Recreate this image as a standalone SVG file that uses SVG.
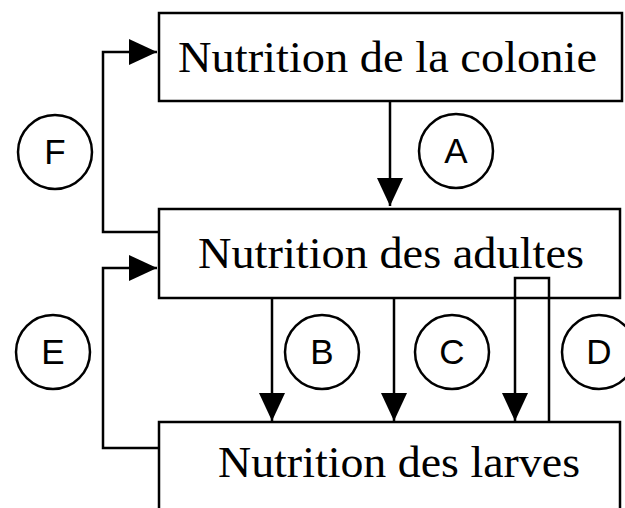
<svg xmlns="http://www.w3.org/2000/svg" width="625" height="508" viewBox="0 0 625 508">
<style>
.box{fill:#fff;stroke:#000;stroke-width:2.5}
.lbl{font-family:"Liberation Serif","DejaVu Serif",serif;font-size:45px;fill:#000}
.ln{fill:none;stroke:#000;stroke-width:2.5}
.cir{fill:#fff;stroke:#000;stroke-width:2.5}
.let{font-family:"Liberation Sans",Arial,sans-serif;font-size:35px;fill:#000;text-anchor:middle}
</style>
<defs>
<marker id="ah" markerUnits="userSpaceOnUse" markerWidth="30" markerHeight="28" refX="28" refY="13" orient="auto">
<path d="M0,0 L28,13 L0,26 z" fill="#000"/>
</marker>
</defs>
<rect width="625" height="508" fill="#fff"/>
<g id="n1"><rect class="box" x="159" y="13" width="463" height="88"/><text class="lbl" x="178" y="72" textLength="419" lengthAdjust="spacingAndGlyphs">Nutrition de la colonie</text></g>
<g id="n2"><rect class="box" x="159" y="209" width="461" height="89"/><text class="lbl" x="198" y="268" textLength="386" lengthAdjust="spacingAndGlyphs">Nutrition des adultes</text></g>
<g id="n3"><rect class="box" x="159" y="422" width="461" height="100"/><text class="lbl" x="218" y="477" textLength="362" lengthAdjust="spacingAndGlyphs">Nutrition des larves</text></g>
<g id="connectors">
<path class="ln" d="M390,101 V206" marker-end="url(#ah)"/>
<path class="ln" d="M159,232 H103 V52 H157" marker-end="url(#ah)"/>
<path class="ln" d="M159,448 H103 V268 H157" marker-end="url(#ah)"/>
<path class="ln" d="M272,298 V421" marker-end="url(#ah)"/>
<path class="ln" d="M394,298 V421" marker-end="url(#ah)"/>
<path class="ln" d="M549,422 V278 H515 V421" marker-end="url(#ah)"/>
</g>
<g id="lA"><circle class="cir" cx="456" cy="151" r="37"/><text class="let" x="456" y="163">A</text></g>
<g id="lF"><circle class="cir" cx="55" cy="152" r="37"/><text class="let" x="55" y="164">F</text></g>
<g id="lE"><circle class="cir" cx="53" cy="352" r="37"/><text class="let" x="53" y="364">E</text></g>
<g id="lB"><circle class="cir" cx="322" cy="352" r="37"/><text class="let" x="322" y="364">B</text></g>
<g id="lC"><circle class="cir" cx="452" cy="352" r="37"/><text class="let" x="452" y="364">C</text></g>
<g id="lD"><circle class="cir" cx="599" cy="352" r="37"/><text class="let" x="599" y="364">D</text></g>
</svg>
